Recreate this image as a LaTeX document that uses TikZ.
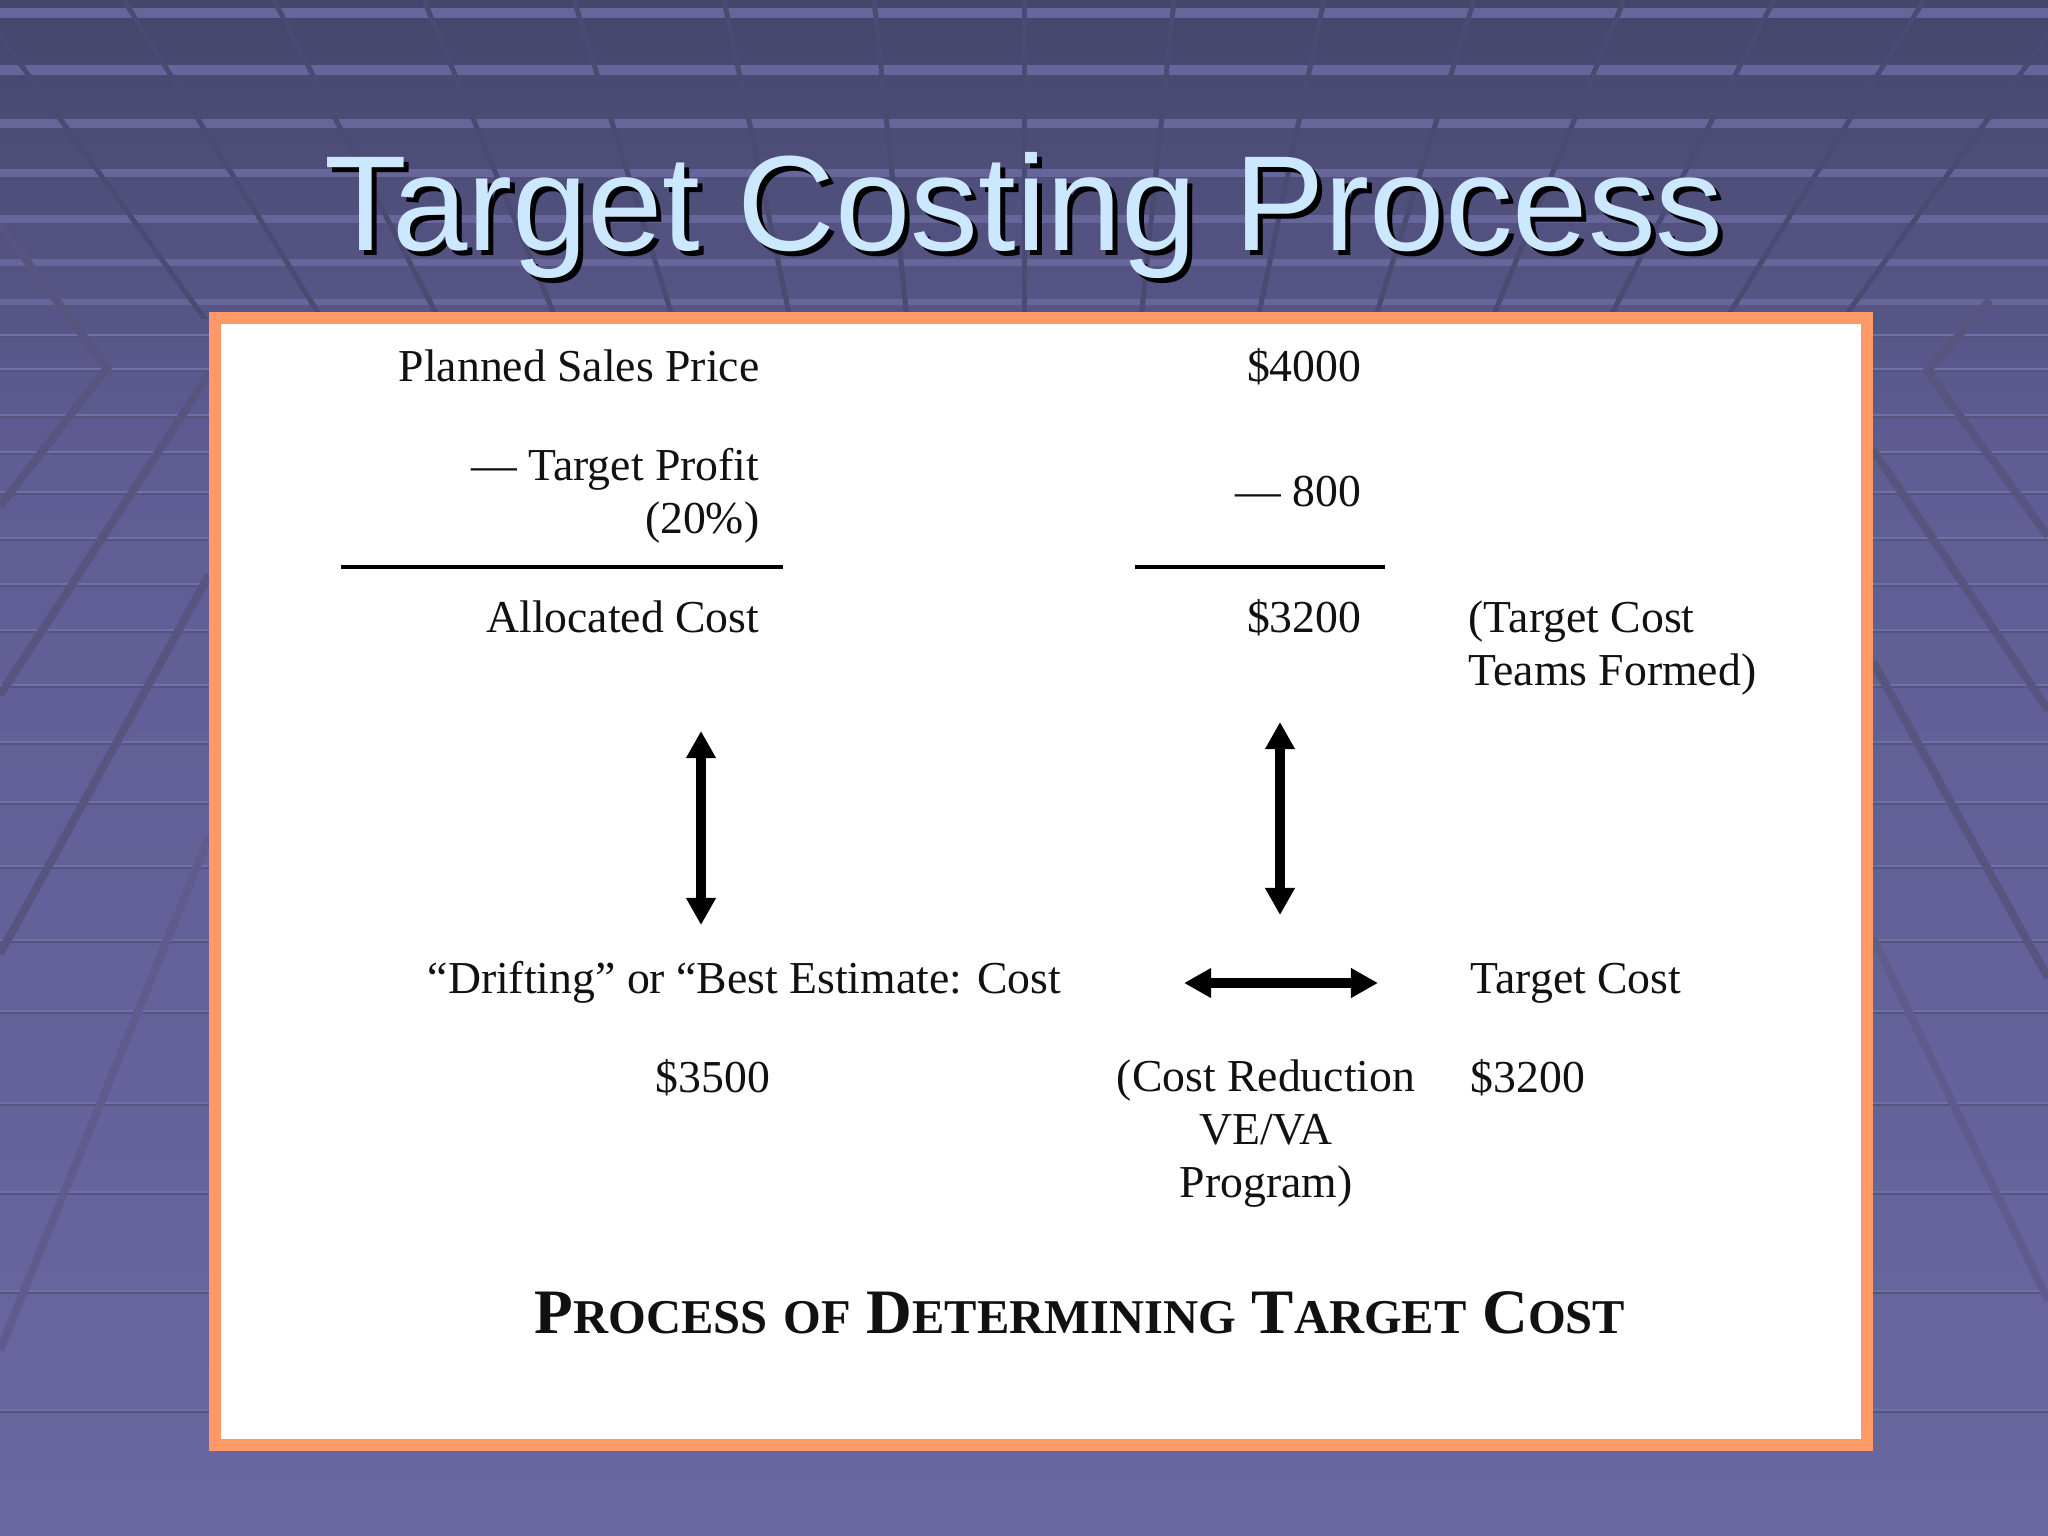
\documentclass[tikz,border=0pt]{standalone}
\usepackage{fontspec}
\setmainfont{Liberation Serif}
\newfontfamily\titlefont{Liberation Sans}
\usepackage{xcolor}
\usepackage{tikz}
\usetikzlibrary{arrows.meta}

\definecolor{bgtop}{HTML}{44466A}
\definecolor{bgmid}{HTML}{605C94}
\definecolor{bgbot}{HTML}{6A66A0}
\definecolor{bandlight}{HTML}{66669A}
\definecolor{bandedge}{HTML}{7070A8}
\definecolor{bandline}{HTML}{55537F}
\definecolor{chevron}{HTML}{57547F}
\definecolor{frameorange}{HTML}{FF9966}
\definecolor{titleblue}{HTML}{CCE8FF}
\definecolor{inkgray}{HTML}{111111}

\newcommand{\capsc}[2]{{\fontsize{18}{20}\selectfont #1}{\fontsize{13.8}{16}\selectfont #2}}

\begin{document}
\begin{tikzpicture}[
    x=0.01cm, y=-0.01cm,
    txt/.style={font=\fontsize{13}{15}\selectfont, text=inkgray, inner sep=0pt},
    rule/.style={line width=0.04cm, draw=black},
    dbl/.style={{Triangle[length=0.27cm,width=0.28cm]}-{Triangle[length=0.27cm,width=0.28cm]}, line width=0.1cm},
    chev/.style={draw=chevron, line width=0.08cm}
]
\useasboundingbox (0,0) rectangle (2048,1536);

% background
\fill[top color=bgtop, bottom color=bgmid] (0,0) rectangle (2048,460);
\fill[top color=bgmid, bottom color=bgbot] (0,460) rectangle (2048,1536);
\foreach \y/\w in {13/10, 70/10, 123/9, 173/8, 219/8, 262/7, 302/6}
    \fill[bandlight] (0,\y-\w/2) rectangle (2048,\y+\w/2);
\begin{scope}
    \clip (0,0) rectangle (2048,318);
    \foreach \k in {-7,...,7}
        \draw[bgtop!80!bgmid, line width=0.05cm] (1024+150*\k,0) -- (1024,1450);
\end{scope}
\foreach \y in {337,371,417,454,494,540,586,632,687,744,804,868,942,1013,1105,1194,1293,1412} {
    \draw[bandedge, line width=0.02cm] (0,\y-2) -- (2048,\y-2);
    \draw[bandline, line width=0.02cm] (0,\y) -- (2048,\y);
}
\draw[chev] (0,225) -- (107,368) -- (0,506);
\draw[chev] (209,374) -- (0,695);
\draw[chev] (209,575) -- (0,954);
\draw[chev, draw=chevron!60!bgbot] (209,837) -- (0,1350);
\draw[chev] (1990,300) -- (1927,371) -- (2048,536);
\draw[chev] (1873,450) -- (2048,710);
\draw[chev] (1873,662) -- (2048,978);
\draw[chev, draw=chevron!60!bgbot] (1873,938) -- (2048,1300);

% title
\node[font=\titlefont\fontsize{38.5}{40}\selectfont, text=black, anchor=base] (shadow) at (1029,255) {Target Costing Process};
\node[font=\titlefont\fontsize{38.5}{40}\selectfont, text=titleblue, anchor=base] (title) at (1024,250) {Target Costing Process};

% frame
\draw[line width=0.12cm, draw=frameorange, fill=white] (215,318) rectangle (1867,1445);

% upper block (multi-line nodes sit on their last baseline)
\node[txt, anchor=base east] (price) at (760,381) {Planned Sales Price};
\node[txt, anchor=base east] (priceval) at (1362,381) {\$4000};
\node[txt, anchor=base east, align=right] (profit) at (760,533) {— Target Profit\\(20\%)};
\node[txt, anchor=base east] (profitval) at (1362,506) {— 800};
\draw[rule] (341,567) -- (783,567);
\draw[rule] (1135,567) -- (1385,567);
\node[txt, anchor=base east] (alloc) at (760,632) {Allocated Cost};
\node[txt, anchor=base east] (allocval) at (1362,632) {\$3200};
\node[txt, anchor=base west, align=left] (teams) at (1468,685) {(Target Cost\\Teams Formed)};

% arrows
\coordinate (lefttop) at (701,731);
\coordinate (leftbot) at (701,925);
\coordinate (righttop) at (1280,722);
\coordinate (rightbot) at (1280,915);
\coordinate (midleft) at (1184,983);
\coordinate (midright) at (1378,983);
\draw[dbl] (lefttop) -- (leftbot);
\draw[dbl] (righttop) -- (rightbot);
\draw[dbl] (midleft) -- (midright);

% lower block
\node[txt, anchor=base west] (drift) at (427,993) {“Drifting” or “Best Estimate: Cost};
\node[txt, anchor=base west] (tcost) at (1470,993) {Target Cost};
\node[txt, anchor=base] (driftval) at (713,1092) {\$3500};
\node[txt, anchor=base, align=center] (veva) at (1266,1197) {(Cost Reduction\\VE/VA\\Program)};
\node[txt, anchor=base west] (tcostval) at (1470,1092) {\$3200};

\node[font=\bfseries\fontsize{18}{20}\selectfont, text=inkgray, anchor=base, inner sep=0pt] (caption) at (1080,1333)
    {\capsc{P}{ROCESS} \capsc{}{OF} \capsc{D}{ETERMINING} \capsc{T}{ARGET} \capsc{C}{OST}};
\end{tikzpicture}
\end{document}
